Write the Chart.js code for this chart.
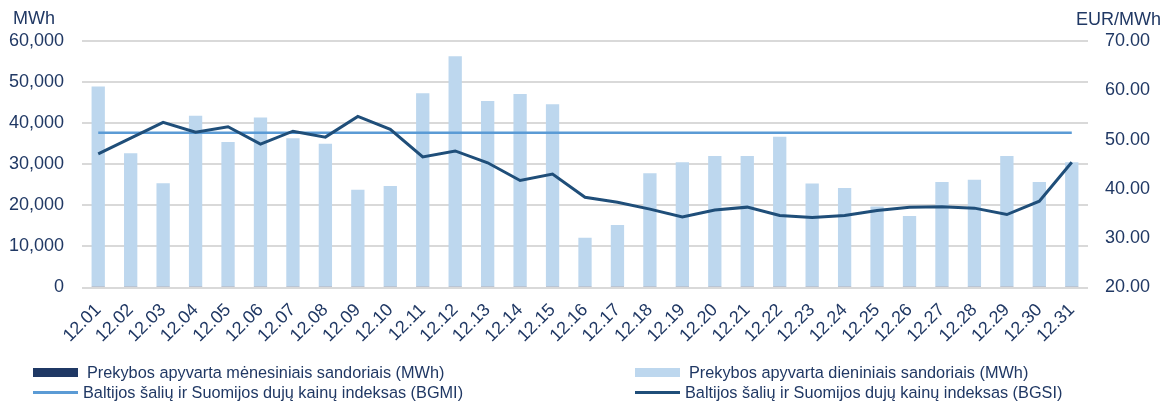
<!DOCTYPE html>
<html>
<head>
<meta charset="utf-8">
<script src="https://cdn.jsdelivr.net/npm/chart.js@4"></script>
<style>
  body { margin: 0; background: #fff; }
  #wrap { position: relative; width: 1172px; height: 401px; }
  #legend {
    position: absolute; left: 33px; top: 362px;
    display: grid; grid-template-columns: 602px 520px;
    font: 16.3px "Liberation Sans", Arial, sans-serif; color: #203864;
  }
  .item { display: flex; align-items: center; height: 20px; white-space: nowrap; }
  .mark { width: 45px; flex: none; }
</style>
</head>
<body>
<div id="wrap">
  <canvas id="chart" width="1172" height="401"></canvas>
  <div id="legend"></div>
</div>
<script>
// data
const days = ['12.01', '12.02', '12.03', '12.04', '12.05', '12.06', '12.07', '12.08', '12.09', '12.10',
    '12.11', '12.12', '12.13', '12.14', '12.15', '12.16', '12.17', '12.18', '12.19', '12.20',
    '12.21', '12.22', '12.23', '12.24', '12.25', '12.26', '12.27', '12.28', '12.29', '12.30', '12.31'];

const monthly = [300, 300, 300, 300, 300, 300, 300, 300, 300, 300,
    300, 300, 300, 300, 300, 300, 300, 300, 300, 300,
    300, 300, 300, 300, 300, 300, 300, 300, 300, 300, 300];

const daily = [48600, 32400, 25100, 41500, 35100, 41100, 36000, 34700, 23500, 24400,
    47000, 56000, 45100, 46800, 44300, 11800, 14900, 27500, 30200, 31700,
    31700, 36400, 25000, 23900, 19400, 17100, 25400, 25900, 31700, 25400, 30200];

const bgmi = [51.4, 51.4, 51.4, 51.4, 51.4, 51.4, 51.4, 51.4, 51.4, 51.4,
    51.4, 51.4, 51.4, 51.4, 51.4, 51.4, 51.4, 51.4, 51.4, 51.4,
    51.4, 51.4, 51.4, 51.4, 51.4, 51.4, 51.4, 51.4, 51.4, 51.4, 51.4];

const bgsi = [47.1, 50.3, 53.5, 51.5, 52.6, 49.1, 51.7, 50.5, 54.7, 52.1,
    46.5, 47.7, 45.3, 41.7, 43.0, 38.3, 37.3, 35.9, 34.3, 35.7,
    36.3, 34.6, 34.2, 34.6, 35.6, 36.3, 36.4, 36.1, 34.8, 37.5, 45.4];

const leftTicks = [0, 10000, 20000, 30000, 40000, 50000, 60000];
const rightTicks = [20, 30, 40, 50, 60, 70];
const leftUnit = 'MWh';
const rightUnit = 'EUR/MWh';

const names = [
    'Prekybos apyvarta mėnesiniais sandoriais (MWh)',
    'Prekybos apyvarta dieniniais sandoriais (MWh)',
    'Baltijos šalių ir Suomijos dujų kainų indeksas (BGMI)',
    'Baltijos šalių ir Suomijos dujų kainų indeksas (BGSI)'
];

const textColor = '#203864';
const font = { family: '"Liberation Sans", Arial, sans-serif', size: 18 };

const unitLabels = {
    id: 'unitLabels',
    afterDraw(chart) {
        const c = chart.ctx;
        const area = chart.chartArea;
        c.save();
        c.fillStyle = textColor;
        c.font = '18px "Liberation Sans", Arial, sans-serif';
        c.textBaseline = 'middle';
        c.textAlign = 'left';
        c.fillText(leftUnit, area.left - 69, area.top - 22);
        c.textAlign = 'right';
        c.fillText(rightUnit, area.right + 73, area.top - 21);
        c.restore();
    }
};

const chart = new Chart(document.getElementById('chart'), {
    type: 'bar',
    data: {
        labels: days,
        datasets: [{
            label: names[0],
            data: monthly,
            backgroundColor: '#1F3864',
            barPercentage: 0.41,
            categoryPercentage: 1,
            order: 2
        }, {
            label: names[1],
            data: daily,
            backgroundColor: '#BDD7EE',
            barPercentage: 0.41,
            categoryPercentage: 1,
            order: 2
        }, {
            type: 'line',
            label: names[2],
            data: bgmi,
            yAxisID: 'y2',
            borderColor: '#5B9BD5',
            borderWidth: 2.5,
            pointRadius: 0,
            order: 1
        }, {
            type: 'line',
            label: names[3],
            data: bgsi,
            yAxisID: 'y2',
            borderColor: '#1F4E79',
            borderWidth: 3,
            pointRadius: 0,
            order: 0
        }]
    },
    options: {
        responsive: false,
        animation: false,
        devicePixelRatio: 1,
        layout: { padding: { top: 41, left: 0, right: 0, bottom: 0 } },
        plugins: { legend: { display: false }, tooltip: { enabled: false } },
        scales: {
            x: {
                stacked: true,
                grid: { display: false },
                border: { display: false },
                ticks: { color: textColor, font: font, minRotation: 45, maxRotation: 45, autoSkip: false, padding: 4 },
                afterFit(scale) { scale.height = 113.5; }
            },
            y: {
                stacked: true,
                position: 'left',
                min: 0,
                max: 60000,
                afterBuildTicks(scale) { scale.ticks = leftTicks.map(v => ({ value: v })); },
                ticks: {
                    color: textColor, font: font, padding: 18,
                    callback: v => v.toLocaleString('en-US')
                },
                grid: { color: '#D9D9D9', lineWidth: 2, drawTicks: false },
                border: { display: false },
                afterFit(scale) { scale.width = 82; }
            },
            y2: {
                position: 'right',
                min: 20,
                max: 70,
                afterBuildTicks(scale) { scale.ticks = rightTicks.map(v => ({ value: v })); },
                ticks: {
                    color: textColor, font: font, padding: 17,
                    callback: v => v.toFixed(2)
                },
                grid: { display: false, drawTicks: false },
                border: { display: false },
                afterFit(scale) { scale.width = 84; }
            }
        }
    },
    plugins: [unitLabels]
});

// legend in two columns, built from the datasets
const legend = document.getElementById('legend');
chart.data.datasets.forEach(ds => {
    const item = document.createElement('div');
    item.className = 'item';
    const mark = document.createElement('span');
    mark.className = 'mark';
    const isLine = ds.type === 'line';
    mark.style.height = isLine ? '3px' : '9px';
    mark.style.background = isLine ? ds.borderColor : ds.backgroundColor;
    mark.style.marginRight = isLine ? '5px' : '9px';
    const txt = document.createElement('span');
    txt.textContent = ds.label;
    item.appendChild(mark);
    item.appendChild(txt);
    legend.appendChild(item);
});
</script>
</body>
</html>
